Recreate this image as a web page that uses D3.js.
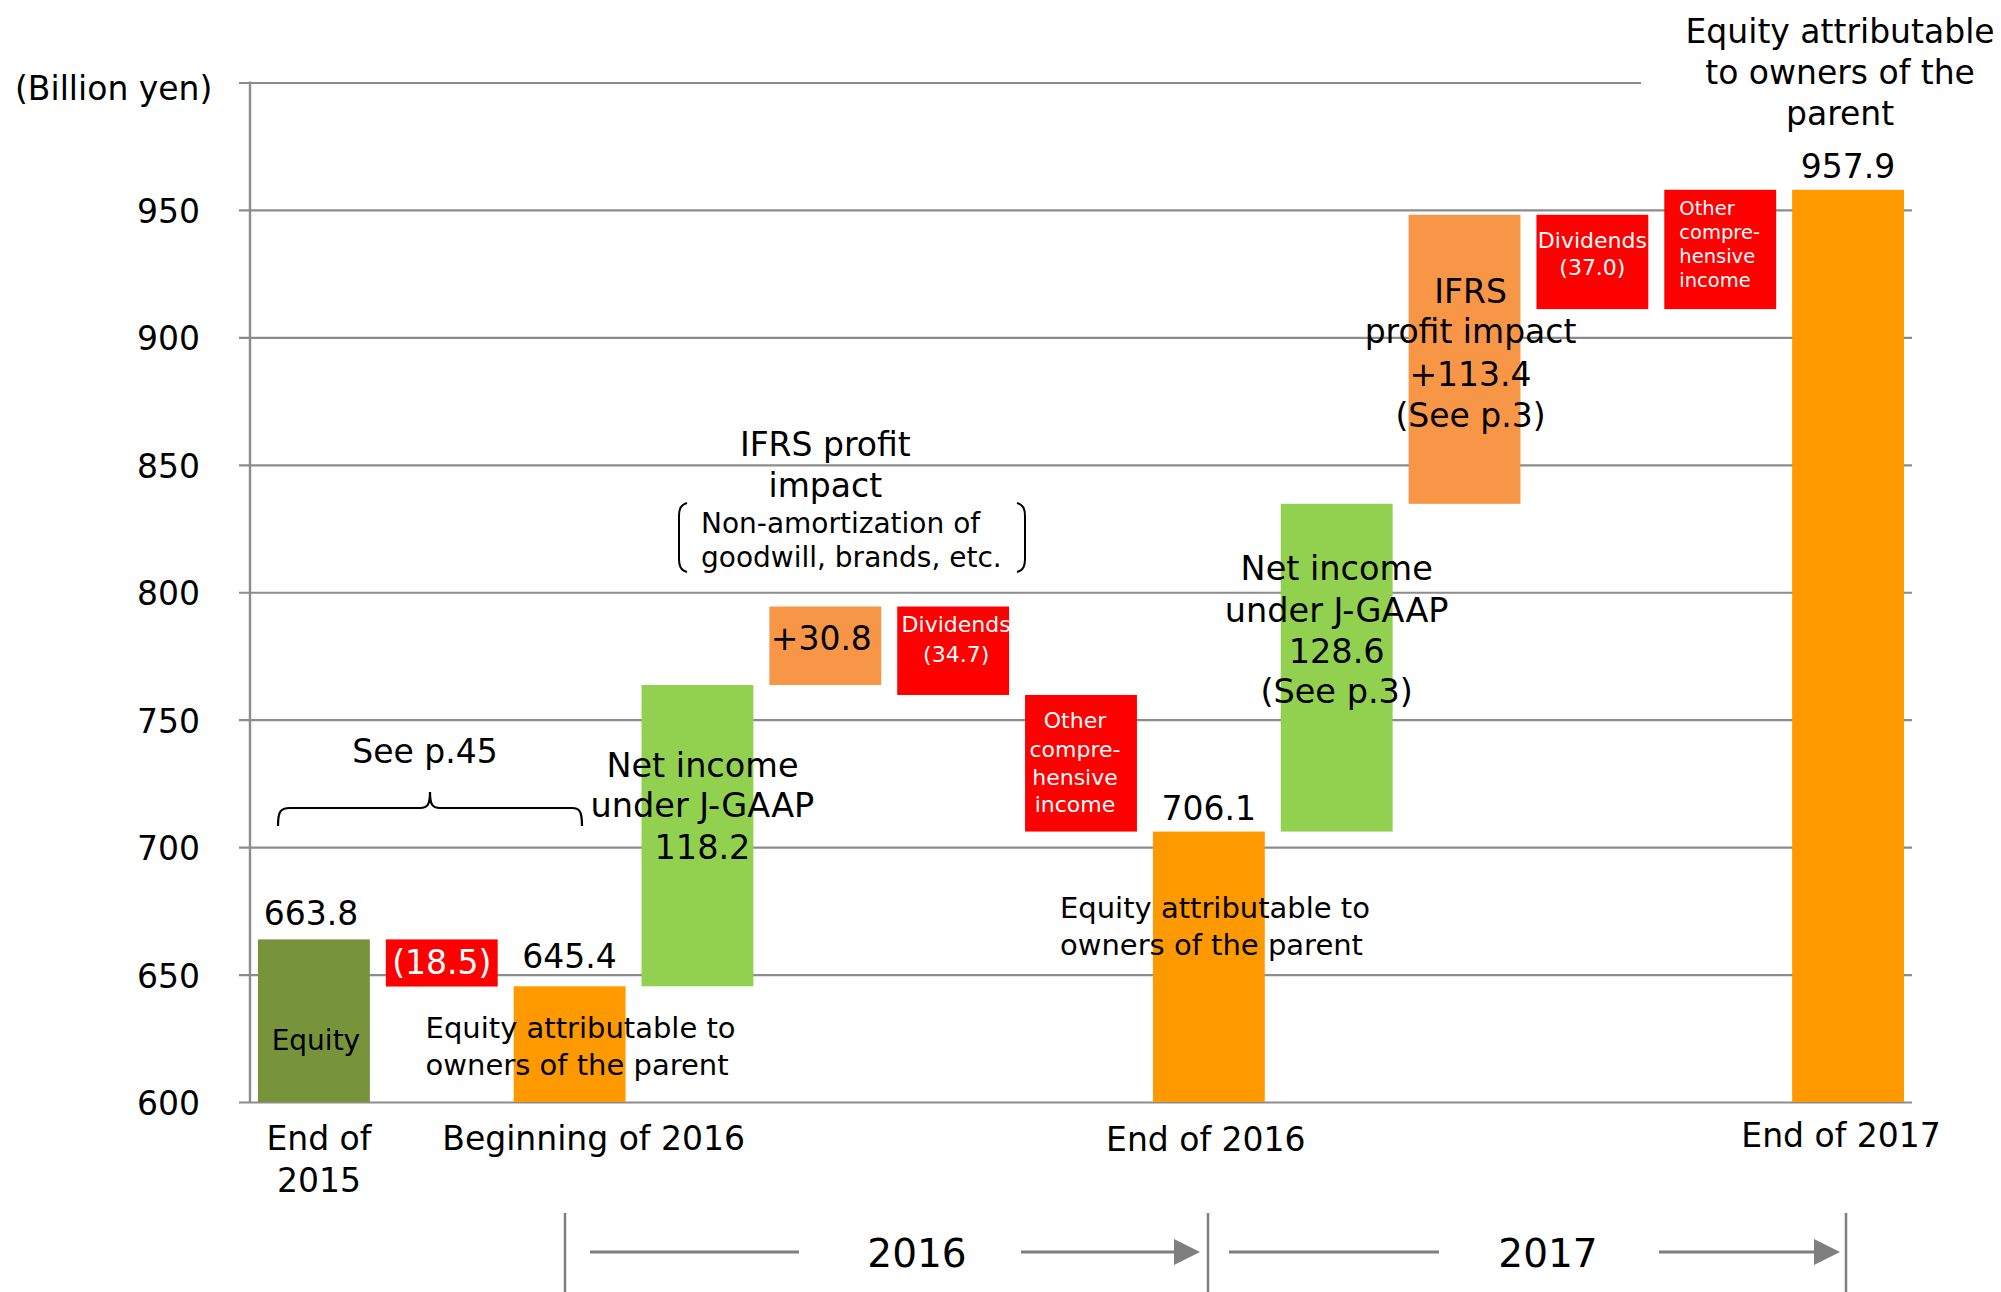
<!DOCTYPE html>
<html>
<head>
<meta charset="utf-8">
<script src="https://cdn.jsdelivr.net/npm/d3@7"></script>
<style>
  html, body { margin: 0; padding: 0; background: #fff; }
  svg { display: block; font-family: "DejaVu Sans", Verdana, sans-serif; }
</style>
</head>
<body>
<svg id="chart" width="2001" height="1292"></svg>
<script>
// ---------- data ----------
const categories = ["End of 2015", "Adjustment", "Beginning of 2016", "Net income 2016", "IFRS impact 2016",
  "Dividends 2016", "OCI 2016", "End of 2016", "Net income 2017", "IFRS impact 2017",
  "Dividends 2017", "OCI 2017", "End of 2017"];
const kinds = ["total", "delta", "total", "delta", "delta", "delta", "delta", "total", "delta", "delta", "delta", "delta", "total"];
const values = [663.8, -18.5, 645.4, 118.2, 30.8, -34.7, -53.6, 706.1, 128.6, 113.4, -37.0, 46.8, 957.9];
const barColors = ["#77933C", "#FF0000", "#FF9900", "#92D050", "#F79646", "#FF0000", "#FF0000",
  "#FF9900", "#92D050", "#F79646", "#FF0000", "#FF0000", "#FF9900"];
const yTicks = [600, 650, 700, 750, 800, 850, 900, 950, 1000];
const yTickLabels = ["600", "650", "700", "750", "800", "850", "900", "950", ""];
const yDomain = [600, 1000];
const periods = ["2016", "2017"];

// ---------- layout ----------
const svg = d3.select("#chart");
const plotLeft = 250, plotRight = 1912, plotTop = 82.5, plotBottom = 1102;
const FONT_TXT = "#000";

const x = d3.scaleBand().domain(categories).range([plotLeft, plotRight])
  .paddingInner(0.125).paddingOuter(0.0625);
const y = d3.scaleLinear().domain(yDomain).range([plotBottom, plotTop]);
const cx = i => x(categories[i]) + x.bandwidth() / 2;

// waterfall spans
let running = yDomain[0];
const spans = values.map((v, i) => {
  if (kinds[i] === "total") { running = v; return { lo: yDomain[0], hi: v }; }
  const start = running; running = start + v;
  return { lo: Math.min(start, running), hi: Math.max(start, running) };
});

// ---------- gridlines / axis ----------
const gridG = svg.append("g").attr("transform", `translate(239,0)`)
  .call(d3.axisLeft(y).tickValues(yTicks).tickSize(-(plotRight - 239)).tickPadding(39)
    .tickFormat((d, i) => yTickLabels[i]));
gridG.select(".domain").remove();
gridG.selectAll(".tick line").attr("stroke", "#8c8c8c").attr("stroke-width", 2.2);
gridG.selectAll(".tick text").attr("font-size", 33).attr("fill", FONT_TXT)
  .attr("font-family", "DejaVu Sans").attr("dy", "0.38em");

// white box that hides top gridline behind title
svg.append("rect").attr("x", 1641).attr("y", y(1000) - 8).attr("width", 360).attr("height", 16).attr("fill", "#fff");

svg.append("line").attr("x1", plotLeft).attr("x2", plotLeft)
  .attr("y1", y(1000) - 1).attr("y2", y(600) + 1)
  .attr("stroke", "#8c8c8c").attr("stroke-width", 2.4);

// ---------- bars ----------
svg.append("g").selectAll("rect").data(spans).join("rect")
  .attr("x", (d, i) => x(categories[i]))
  .attr("width", x.bandwidth())
  .attr("y", d => y(d.hi))
  .attr("height", d => y(d.lo) - y(d.hi))
  .attr("fill", (d, i) => barColors[i]);

// ---------- text helper ----------
function txt(lines, xPos, baselines, opts = {}) {
  const t = svg.append("text")
    .attr("font-size", opts.size || 33)
    .attr("fill", opts.fill || FONT_TXT)
    .attr("text-anchor", opts.anchor || "middle");
  lines.forEach((l, k) => {
    t.append("tspan").attr("x", xPos).attr("y", baselines[k]).text(l);
  });
  return t;
}

// unit label
txt(["(Billion yen)"], 15, [100], { anchor: "start" });

// value labels
txt([d3.format(".1f")(values[0])], cx(0) - 3, [y(values[0]) - 14]);
txt(["(18.5)"], cx(1), [(y(spans[1].hi) + y(spans[1].lo)) / 2 + 11], { fill: "#fff" });
txt([d3.format(".1f")(values[2])], cx(2), [y(values[2]) - 18]);
txt(["Equity"], cx(0) + 2, [1050], { size: 28 });
txt(["Equity attributable to", "owners of the parent"], cx(2) - 144, [1038, 1075], { anchor: "start", size: 29 });
txt(["End of", "2015"], cx(0) + 5, [1150, 1192]);
txt(["Beginning of 2016"], cx(2) + 24, [1150]);

// brace "See p.45"
txt(["See p.45"], 425, [763]);
svg.append("path")
  .attr("d", "M278,826 C278,812 280,808 290,808 L420,808 C428,808 430,804 430,792 C430,804 432,808 440,808 L572,808 C580,808 582,812 582,826")
  .attr("fill", "none").attr("stroke", "#000").attr("stroke-width", 2.2);

// 2016 net income
txt(["Net income", "under J-GAAP", "118.2"], cx(3) + 5, [777, 817, 859], { size: 33.5 });

// 2016 IFRS impact
txt(["IFRS profit", "impact"], cx(4), [456, 497]);
txt(["Non-amortization of", "goodwill, brands, etc."], 701, [533, 567], { anchor: "start", size: 28 });
svg.append("path").attr("d", "M687,503 C680,505 679,510 679,516 L679,559 C679,565 680,570 687,572")
  .attr("fill", "none").attr("stroke", "#000").attr("stroke-width", 2);
svg.append("path").attr("d", "M1017,503 C1024,505 1025,510 1025,516 L1025,559 C1025,565 1024,570 1017,572")
  .attr("fill", "none").attr("stroke", "#000").attr("stroke-width", 2);
txt(["+30.8"], cx(4) - 4, [650]);

// 2016 dividends & OCI
txt(["Dividends", "(34.7)"], cx(5) + 3, [632, 662], { fill: "#fff", size: 22 });
txt(["Other", "compre-", "hensive", "income"], cx(6) - 6, [728, 757, 785, 812], { fill: "#fff", size: 22 });

// End of 2016
txt([d3.format(".1f")(values[7])], cx(7), [y(values[7]) - 12]);
txt(["Equity attributable to", "owners of the parent"], 1060, [918, 955], { anchor: "start", size: 29 });
txt(["End of 2016"], cx(7) - 3, [1151]);

// 2017 net income
txt(["Net income", "under J-GAAP", "128.6", "(See p.3)"], cx(8), [580, 622, 663, 703], { size: 33.5 });

// 2017 IFRS impact
txt(["IFRS", "profit impact", "+113.4", "(See p.3)"], cx(9) + 6, [303, 343, 386, 427]);

// 2017 dividends & OCI
txt(["Dividends", "(37.0)"], cx(10), [248, 275], { fill: "#fff", size: 22 });
txt(["Other", "compre-", "hensive", "income"], x(categories[11]) + 15, [215, 239, 263, 287], { fill: "#fff", size: 19.5, anchor: "start" });

// End of 2017
txt([d3.format(".1f")(values[12])], cx(12), [y(values[12]) - 12]);
txt(["Equity attributable", "to owners of the", "parent"], cx(12) - 8, [43, 84, 125]);
txt(["End of 2017"], cx(12) - 7, [1147]);

// ---------- period brackets ----------
const gray = "#7f7f7f";
const sepX = [565, 1208, 1846];
sepX.forEach(sx => {
  svg.append("line").attr("x1", sx).attr("x2", sx).attr("y1", 1213).attr("y2", 1292)
    .attr("stroke", gray).attr("stroke-width", 2.5);
});
const periodGeom = [
  { l1: [590, 799], l2: [1021, 1178], tip: 1200, label: 917 },
  { l1: [1229, 1439], l2: [1659, 1818], tip: 1840, label: 1548 }
];
periodGeom.forEach((g, i) => {
  const yy = 1252;
  svg.append("line").attr("x1", g.l1[0]).attr("x2", g.l1[1]).attr("y1", yy).attr("y2", yy)
    .attr("stroke", gray).attr("stroke-width", 3);
  svg.append("line").attr("x1", g.l2[0]).attr("x2", g.l2[1]).attr("y1", yy).attr("y2", yy)
    .attr("stroke", gray).attr("stroke-width", 3);
  svg.append("path").attr("d", `M${g.tip - 26},${yy - 13} L${g.tip},${yy} L${g.tip - 26},${yy + 13} Z`)
    .attr("fill", gray);
  txt([periods[i]], g.label, [1267], { size: 39 });
});
</script>
</body>
</html>
